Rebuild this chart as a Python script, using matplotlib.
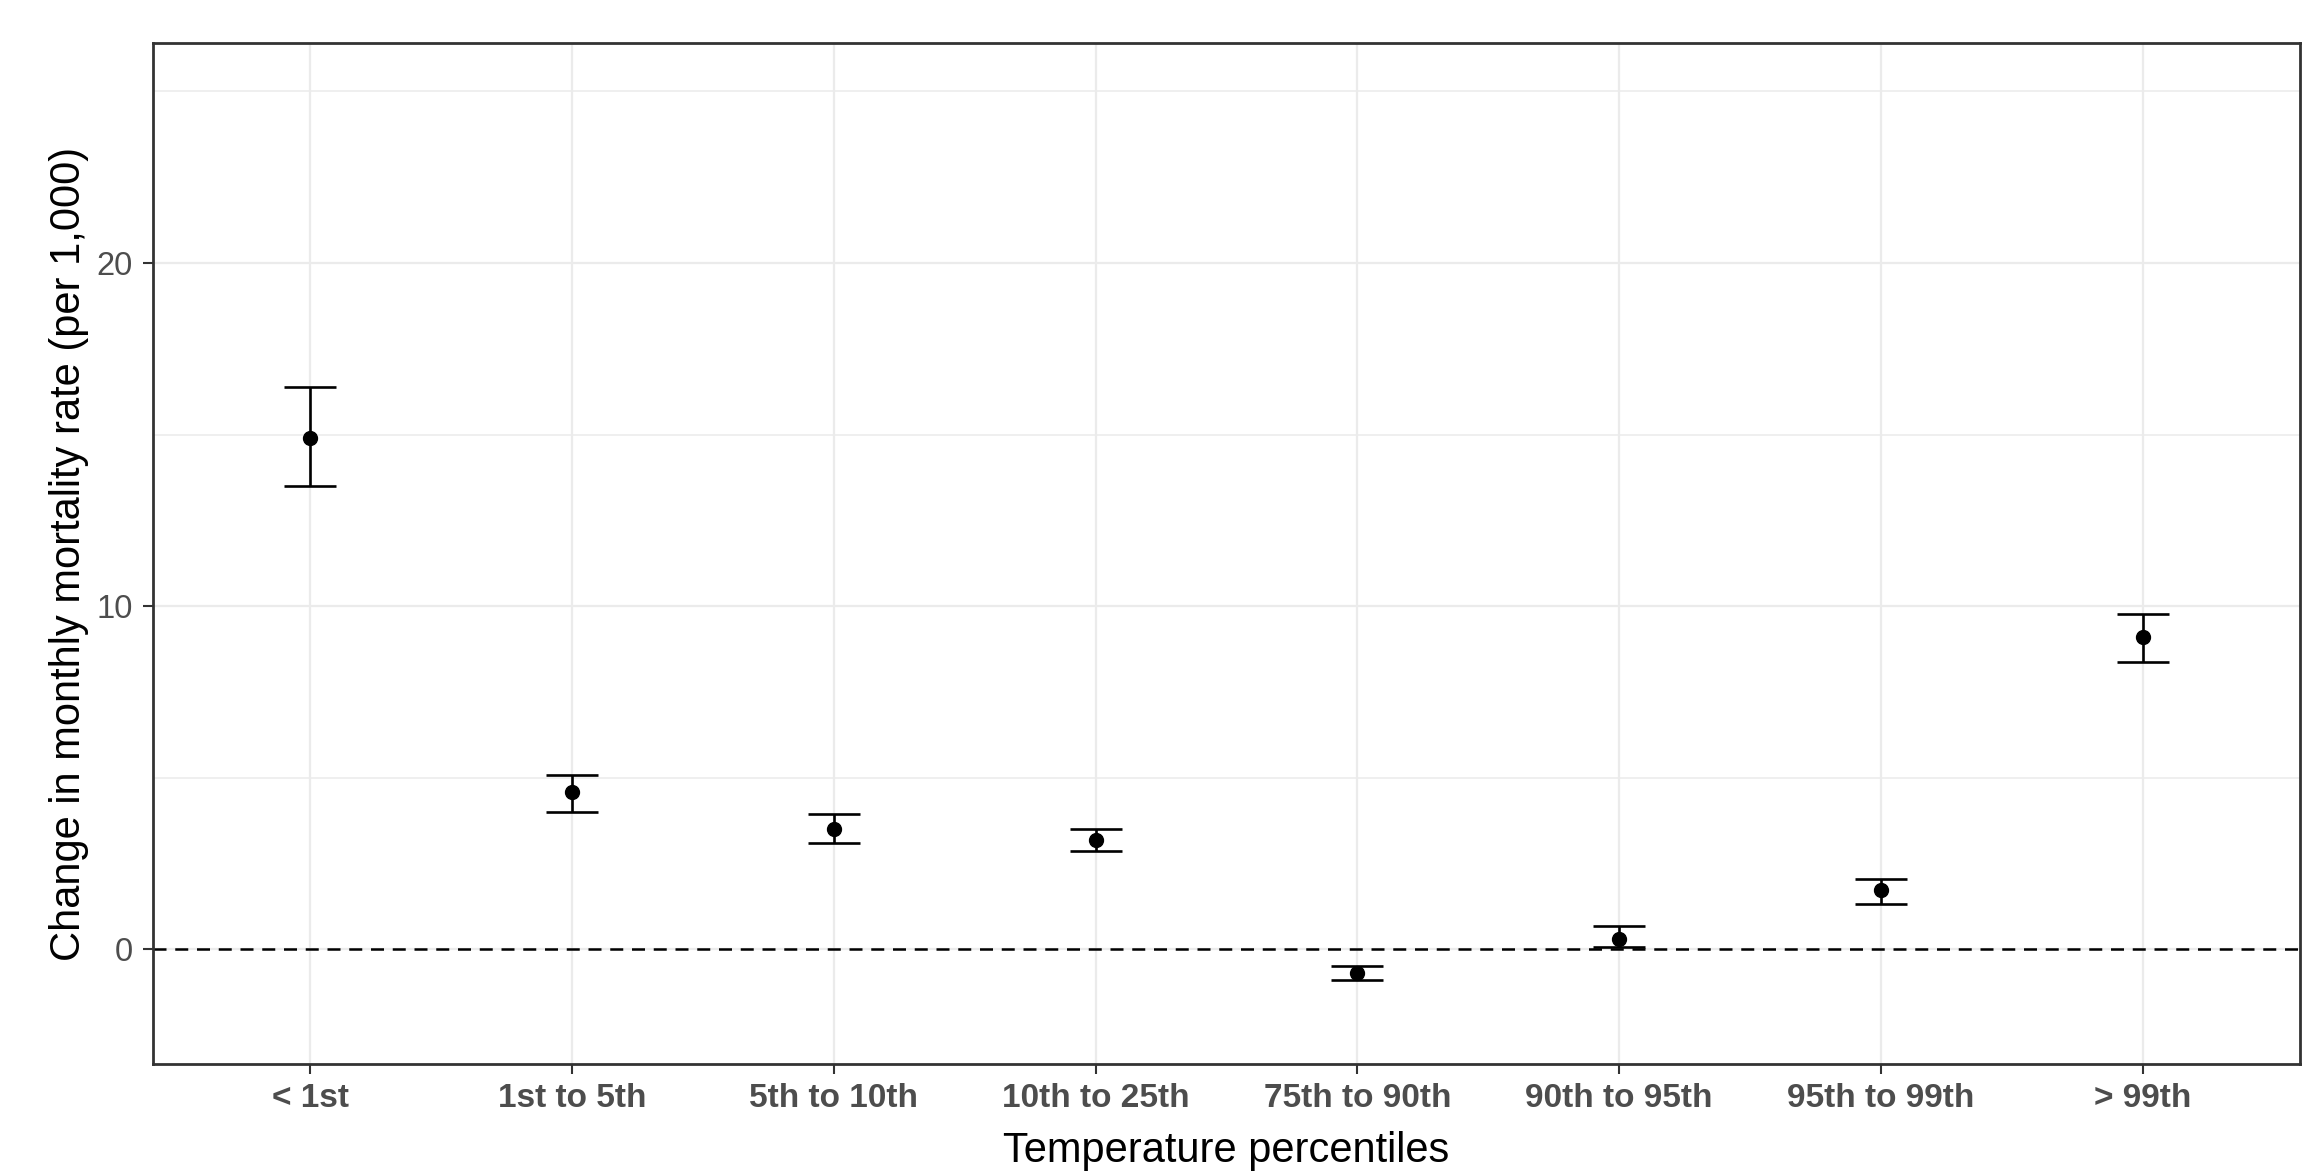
import numpy as np
import matplotlib
matplotlib.use("Agg")
import matplotlib.pyplot as plt
from matplotlib.ticker import MultipleLocator

plt.rcParams['font.family'] = ['Liberation Sans', 'DejaVu Sans']

# Datos
categorias = ["< 1st", "1st to 5th", "5th to 10th", "10th to 25th",
              "75th to 90th", "90th to 95th", "95th to 99th", "> 99th"]
estimacion = [14.91, 4.58, 3.51, 3.19, -0.68, 0.31, 1.72, 9.10]
ic_inferior = [13.50, 4.01, 3.09, 2.86, -0.90, 0.06, 1.33, 8.37]
ic_superior = [16.38, 5.08, 3.93, 3.51, -0.47, 0.68, 2.06, 9.77]

x = np.arange(1, len(categorias) + 1)
est = np.array(estimacion)
err = [est - np.array(ic_inferior), np.array(ic_superior) - est]

W, H = 2320, 1173
fig = plt.figure(figsize=(W / 100, H / 100), dpi=100)
# panel: x de 153 a 2300 px, y de 43 a 1064 px (desde arriba)
ax = fig.add_axes([153 / W, (H - 1064) / H, (2300 - 153) / W, (1064 - 43) / H])

ax.set_xlim(0.4, 8.6)
ax.set_ylim(-3.34, 26.41)
ax.yaxis.set_major_locator(MultipleLocator(10))
ax.yaxis.set_minor_locator(MultipleLocator(5))
ax.set_xticks(x)
ax.grid(which="major", color="#EBEBEB", linewidth=1.6, zorder=0)
ax.grid(which="minor", axis="y", color="#EBEBEB", linewidth=1.1, zorder=0)
ax.set_axisbelow(True)

ax.axhline(0, color="black", linestyle=(0, (5.2, 3.5)), linewidth=1.8, zorder=1)

# ancho del cap = 0.2 unidades
ancho_px = 0.2 * (2300 - 153) / (8.6 - 0.4)
ax.errorbar(x, est, yerr=err, fmt="o", color="black", markersize=10,
            elinewidth=1.9, capthick=1.9, capsize=ancho_px / 2 * 72 / 100, zorder=3)

ax.set_xticklabels(categorias, fontsize=24, fontweight="bold", color="#4D4D4D")
ax.tick_params(axis="y", labelsize=23.5, labelcolor="#4D4D4D", pad=7.5)
ax.tick_params(axis="x", pad=6.5)
ax.tick_params(which="major", length=7.2, width=1.5, color="#333333")
ax.tick_params(which="minor", length=0)

for s in ax.spines.values():
    s.set_color("#333333")
    s.set_linewidth(2.0)

ax.set_xlabel("Temperature percentiles", fontsize=30, va="baseline")
ax.xaxis.set_label_coords(0.5, -(1162 - 1064) / (1064 - 43))
ax.set_ylabel("Change in monthly mortality rate (per 1,000)", fontsize=30)
ax.yaxis.label.set_rotation_mode("anchor")
ax.yaxis.label.set_va("baseline")
ax.yaxis.set_label_coords((80 - 153) / (2300 - 153), 0.5)

plt.savefig("out.png", dpi=100)
plt.close()
